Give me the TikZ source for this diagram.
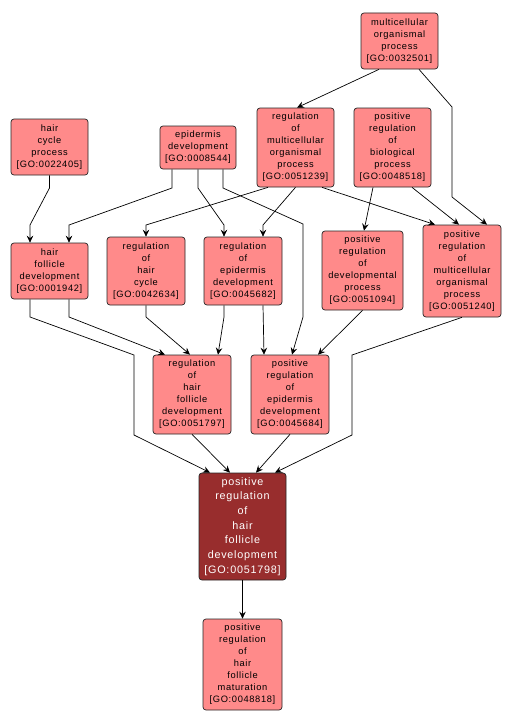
\documentclass[tikz,border=0pt]{standalone}
\usepackage{fontspec}
\setmainfont{Liberation Sans}[LetterSpace=7]
\usetikzlibrary{arrows.meta}

\definecolor{termfill}{RGB}{255,138,138}
\definecolor{focusfill}{RGB}{152,45,45}
\newcommand{\termfont}{\fontsize{9.3}{12}\selectfont}
\newcommand{\focusfont}{\fontsize{10.8}{14.7}\selectfont}

\tikzset{
    term/.style={draw=black!85, fill=termfill, rounded corners=3pt, align=center,
        minimum width=77pt, inner sep=2pt, line width=0.7pt, font=\termfont},
    focus/.style={term, fill=focusfill, text=white, font=\focusfont},
    link/.style={-{Stealth[length=7pt,width=6.5pt,inset=2.5pt]}, line width=0.7pt}
}

\begin{document}
\begin{tikzpicture}[x=1pt, y=-1pt]
    \useasboundingbox (0,0) rectangle (511,725);

    % Define nodes
    \node[term, minimum height=56pt] (mop) at (399.5,41) {multicellular\\organismal\\process\\{[GO:0032501]}};
    \node[term, minimum height=56pt] (hcp) at (49.5,147) {hair\\cycle\\process\\{[GO:0022405]}};
    \node[term, minimum height=43pt, minimum width=76pt] (epd) at (198,147.5) {epidermis\\development\\{[GO:0008544]}};
    \node[term, minimum height=79pt] (rmop) at (295.5,147.5) {regulation\\of\\multicellular\\organismal\\process\\{[GO:0051239]}};
    \node[term, minimum height=79pt] (prbp) at (392.5,147.5) {positive\\regulation\\of\\biological\\process\\{[GO:0048518]}};

    \node[term, minimum height=56pt] (hfd) at (49.5,271) {hair\\follicle\\development\\{[GO:0001942]}};
    \node[term, minimum height=68pt, minimum width=78pt] (rhc) at (146,271) {regulation\\of\\hair\\cycle\\{[GO:0042634]}};
    \node[term, minimum height=68pt, minimum width=78pt] (red) at (243,271) {regulation\\of\\epidermis\\development\\{[GO:0045682]}};
    \node[term, minimum height=79pt, minimum width=81pt] (prdp) at (362.5,270.5) {positive\\regulation\\of\\developmental\\process\\{[GO:0051094]}};
    \node[term, minimum height=92pt, minimum width=78pt] (prmop) at (462,271) {positive\\regulation\\of\\multicellular\\organismal\\process\\{[GO:0051240]}};

    \node[term, minimum height=79pt, minimum width=78pt] (rhfd) at (192,394.5) {regulation\\of\\hair\\follicle\\development\\{[GO:0051797]}};
    \node[term, minimum height=79pt, minimum width=78pt] (pred) at (290,394.5) {positive\\regulation\\of\\epidermis\\development\\{[GO:0045684]}};

    \node[focus, minimum height=107pt, minimum width=87pt] (prhfd) at (242.5,526.5) {positive\\regulation\\of\\hair\\follicle\\development\\{[GO:0051798]}};
    \node[term, minimum height=91pt, minimum width=79pt] (prhfm) at (242.5,664.5) {positive\\regulation\\of\\hair\\follicle\\maturation\\{[GO:0048818]}};

    % Draw connectors
    \draw[link] (mop.south -| 379,0) -- (rmop.north -| 297,0);
    \draw[link] (mop.south -| 419,0) -- (452,107) -- (452,197) -- (prmop.north -| 487,0);
    \draw[link] (hcp.south) -- (49.5,188) -- (30,225) -- (hfd.north -| 30,0);
    \draw[link] (epd.south -| 172,0) -- (172,188) -- (69,225) -- (hfd.north -| 69,0);
    \draw[link] (epd.south -| 198,0) -- (198,188) -- (224,225) -- (red.north -| 224,0);
    \draw[link] (epd.south -| 223,0) -- (223,188) -- (303,224) -- (303,317) -- (pred.north -| 292,0);
    \draw[link] (rmop.south -| 268,0) -- (146,225) -- (rhc.north);
    \draw[link] (rmop.south) -- (263,225) -- (red.north -| 263,0);
    \draw[link] (rmop.south -| 322,0) -- (prmop.north -| 435,0);
    \draw[link] (prbp.south -| 373,0) -- (prdp.north -| 364,0);
    \draw[link] (prbp.south -| 412,0) -- (prmop.north -| 459,0);
    \draw[link] (hfd.south -| 69,0) -- (69,317) -- (rhfd.north -| 165,0);
    \draw[link] (hfd.south -| 30,0) -- (30,317) -- (134,355) -- (134,435) -- (prhfd.north -| 210,0);
    \draw[link] (rhc.south) -- (146,317) -- (rhfd.north -| 190,0);
    \draw[link] (red.south -| 224,0) -- (224,317) -- (rhfd.north -| 218,0);
    \draw[link] (red.south -| 263,0) -- (pred.north -| 264,0);
    \draw[link] (prdp.south) -- (pred.north -| 318,0);
    \draw[link] (prmop.south) -- (352,355) -- (352,435) -- (prhfd.north -| 275,0);
    \draw[link] (rhfd.south) -- (prhfd.north -| 230,0);
    \draw[link] (pred.south) -- (prhfd.north -| 256,0);
    \draw[link] (prhfd) -- (prhfm);
\end{tikzpicture}
\end{document}
